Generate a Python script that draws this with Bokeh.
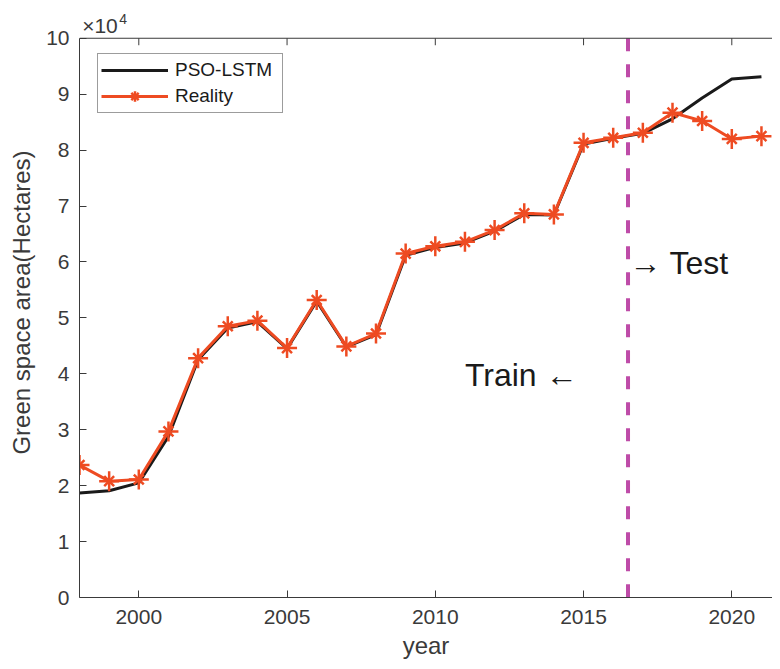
from bokeh.plotting import figure
from bokeh.models import Range1d, FixedTicker, Span, Label, Legend, LegendItem, ColumnDataSource
from bokeh.embed import file_html
from bokeh.resources import INLINE

years = list(range(1998, 2022))
reality = [23700, 20800, 21100, 29700, 42800, 48500, 49500, 44600, 53200, 44900, 47200, 61500,
           62800, 63600, 65700, 68700, 68500, 81300, 82200, 83100, 86700, 85200, 82000, 82500]
pso_lstm = [18700, 19100, 20500, 28800, 42500, 48200, 49300, 44500, 53000, 44800, 47000, 61200,
            62600, 63400, 65500, 68500, 68400, 81100, 82100, 83000, 85600, 89300, 92700, 93100]
x_ticks = [2000, 2005, 2010, 2015, 2020]
y_ticks = list(range(0, 11))
y_max = 10
split_year = 2016.5
scale = 1e4

FONT = "Liberation Sans"
AX = "#3a3a3a"
ORANGE = "#EE4B22"
MAGENTA = "#BE4BA8"
TICK_LEN_PX = 7

src = ColumnDataSource(dict(
    year=years,
    real=[v / scale for v in reality],
    pred=[v / scale for v in pso_lstm],
))

W, H = 772, 661
BL, BT, BB = 79, 7, 63
y_end = 10.55
frame_h = H - BT - BB
px_per_unit = frame_h / y_end

p = figure(width=W, height=H, output_backend="svg", toolbar_location=None,
           x_range=Range1d(1998, 1998 + (W - BL) / 29.65), y_range=Range1d(0, y_end),
           min_border_left=BL, min_border_right=0, min_border_top=BT, min_border_bottom=BB)
p.outline_line_color = None
p.xgrid.visible = False
p.ygrid.visible = False

for ax in (p.xaxis[0], p.yaxis[0]):
    ax.axis_line_color = AX
    ax.axis_line_width = 1
    ax.major_tick_line_color = AX
    ax.major_tick_in = TICK_LEN_PX
    ax.major_tick_out = 0
    ax.minor_tick_line_color = None
    ax.major_label_text_font = FONT
    ax.major_label_text_font_size = "21px"
    ax.major_label_text_color = AX
    ax.axis_label_text_font = FONT
    ax.axis_label_text_font_size = "24px"
    ax.axis_label_text_font_style = "normal"
    ax.axis_label_text_color = AX

p.xaxis[0].ticker = FixedTicker(ticks=x_ticks)
p.xaxis[0].major_label_standoff = 12
p.xaxis[0].axis_label = "year"
p.xaxis[0].axis_label_standoff = 5
p.yaxis[0].ticker = FixedTicker(ticks=y_ticks)
p.yaxis[0].bounds = (0, y_max)
p.yaxis[0].major_label_standoff = 10
p.yaxis[0].axis_label = "Green space area(Hectares)"
p.yaxis[0].axis_label_standoff = 8

# top box line with inward ticks
p.add_layout(Span(location=y_max, dimension="width", line_color=AX, line_width=1))
p.segment(x0=x_ticks, y0=[y_max] * len(x_ticks), x1=x_ticks,
          y1=[y_max - TICK_LEN_PX / px_per_unit] * len(x_ticks), line_color=AX, line_width=1)

# train/test split
p.segment(x0=[split_year], y0=[y_max], x1=[split_year], y1=[0], line_color=MAGENTA,
          line_width=4, line_dash="13 13")

r_pred = p.line("year", "pred", source=src, line_color="#1a1a1a", line_width=3)
r_real = p.line("year", "real", source=src, line_color=ORANGE, line_width=3)
r_m1 = p.scatter("year", "real", source=src, marker="cross", size=20,
                 line_color=ORANGE, line_width=2.5)
r_m2 = p.scatter("year", "real", source=src, marker="x", size=14,
                 line_color=ORANGE, line_width=2.5)

legend = Legend(items=[LegendItem(label="PSO-LSTM", renderers=[r_pred]),
                       LegendItem(label="Reality", renderers=[r_real, r_m1, r_m2])],
                location=(18, 598 - 114))
legend.margin = 0
legend.padding = 3
legend.spacing = 0
legend.glyph_width = 67
legend.glyph_height = 26
legend.label_height = 20
legend.label_width = 104
legend.label_standoff = 7
legend.label_text_font = FONT
legend.label_text_font_size = "19px"
legend.label_text_color = "#1a1a1a"
legend.border_line_color = AX
legend.border_line_width = 1
legend.background_fill_alpha = 1
p.add_layout(legend)

p.add_layout(Label(x=2011.0, y=3.97, text="Train \u2190", text_font=FONT,
                   text_font_size="32px", text_color="#1a1a1a", text_baseline="middle"))
p.add_layout(Label(x=2016.54, y=5.98, text="\u2192 Test", text_font=FONT,
                   text_font_size="32px", text_color="#1a1a1a", text_baseline="middle"))

p.add_layout(Label(x=1998.09, y=10.234, text="\u00d710", text_font=FONT,
                   text_font_size="21px", text_color=AX, text_baseline="middle"))
p.add_layout(Label(x=1999.34, y=10.35, text="4", text_font=FONT,
                   text_font_size="14px", text_color=AX, text_baseline="middle"))

open("out.html", "w").write(file_html(p, INLINE))
